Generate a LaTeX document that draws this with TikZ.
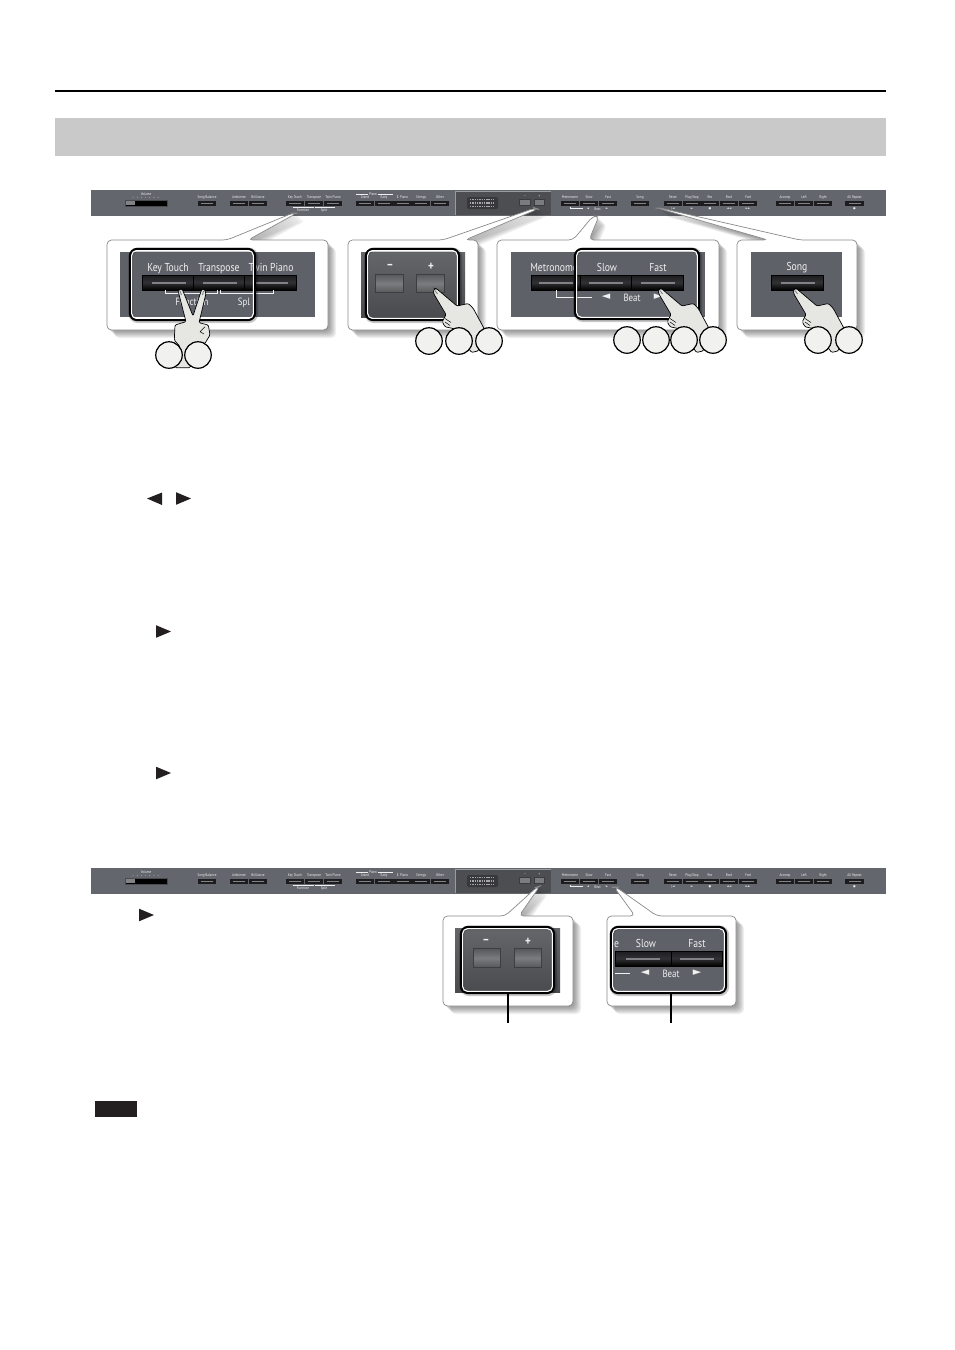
\documentclass[tikz,border=0pt]{standalone}
\usepackage{fontspec}
\usepackage{xcolor}
\setmainfont{PT Sans}
\newfontfamily\panelfont[FakeStretch=0.84]{PT Sans}
\newfontfamily\symfont{DejaVu Sans}
\definecolor{barcolor}{HTML}{63666C}
\definecolor{panelcolor}{HTML}{5F6169}
\definecolor{darkpanel}{HTML}{4A4B4F}
\definecolor{bandcolor}{HTML}{C9C9C9}
\definecolor{inkcolor}{HTML}{231F20}
\definecolor{handcolor}{HTML}{E6E6E3}
\definecolor{keycolor}{HTML}{1D1D20}
\definecolor{keymark}{HTML}{808286}
\definecolor{softkey}{HTML}{7A7C7E}
\definecolor{softedge}{HTML}{56585B}
\definecolor{paneltext}{HTML}{F0F0F0}
\definecolor{outlinecolor}{HTML}{8A8A8A}

\begin{document}
\begin{tikzpicture}[
    x=1pt, y=-1pt,
    barstrip/.style={rectangle, fill=barcolor, minimum width=795pt, minimum height=26pt, inner sep=0pt},
    barbtn/.style={rectangle, fill=keycolor, minimum width=18.4pt, minimum height=5.4pt, inner sep=0pt,
        path picture={\draw[keymark, line width=.9pt] ([xshift=-6pt]path picture bounding box.center) -- ([xshift=6pt]path picture bounding box.center);}},
    softbtn/.style={rectangle, fill=softkey, draw=darkpanel!80!black, line width=.6pt, minimum width=10.5pt, minimum height=6pt, inner sep=0pt},
    barlbl/.style={font=\panelfont\fontsize{3.9}{4}\selectfont, text=paneltext, inner sep=0pt, anchor=base},
    barsym/.style={font=\symfont\fontsize{3}{4}\selectfont, text=paneltext, inner sep=0pt},
    bigbtn/.style={rectangle, draw=black, line width=.6pt, top color=keycolor, bottom color=black, middle color=keycolor!80!keymark,
        minimum width=51.5pt, minimum height=15pt, inner sep=0pt,
        path picture={\draw[keymark, line width=2pt] ([xshift=-17pt]path picture bounding box.center) -- ([xshift=17pt]path picture bounding box.center);}},
    padbtn/.style={rectangle, draw=softedge!70!black, line width=.7pt, top color=softedge, bottom color=softedge, middle color=softkey,
        minimum width=27.5pt, minimum height=18.5pt, inner sep=0pt},
    panellbl/.style={font=\panelfont\fontsize{11.5}{12}\selectfont, text=paneltext, inner sep=0pt, anchor=base},
    smalllbl/.style={font=\panelfont\fontsize{10.5}{11}\selectfont, text=paneltext, inner sep=0pt, anchor=base},
    padlbl/.style={font=\panelfont\bfseries\fontsize{13}{13}\selectfont, text=paneltext, inner sep=0pt},
    panelsym/.style={font=\symfont\fontsize{11}{11}\selectfont, text=paneltext, inner sep=0pt},
    whiteline/.style={draw=paneltext, line width=.9pt},
    selframe/.style={rectangle, draw=black, line width=2.2pt, rounded corners=7pt, inner sep=0pt,
        preaction={draw=black, opacity=.22, line width=4.5pt, transform canvas={shift={(.8pt,-.8pt)}}}},
    selinner/.style={rectangle, draw=white, line width=1.1pt, rounded corners=5pt, inner sep=0pt},
    stepcircle/.style={circle, draw=black, line width=1.2pt, fill=handcolor!55!white, minimum size=26.5pt, inner sep=0pt},
    handline/.style={draw=black, line width=.7pt, fill=handcolor, rounded corners=1.2pt},
    foldline/.style={draw=black, line width=.5pt},
    leadline/.style={draw=black, line width=2pt},
    pointhand/.pic={
        \draw[handline] (-1.7,1.3) -- (-1,4.7) -- (11,25) -- (7.3,32.3) -- (10,37.3) -- (18.3,39) -- (36.7,63)
            -- (43.3,61.3) -- (50,40.7) -- (38.3,19) -- (33.3,14) -- (22,16.5) -- (1.7,-.7) -- (0,-1) -- cycle;
        \draw[foldline] (10,29) -- (16,33) (10,32.5) -- (15,36);
        \draw[keymark, line width=.9pt] (.2,1.2) -- (2.5,4.5);
    }
]
\useasboundingbox (0,0) rectangle (954,1350);

% Head rule and section band
\coordinate (ruleleft) at (55,91);
\coordinate (ruleright) at (886,91);
\draw[draw=black, line width=1.6pt] (ruleleft) -- (ruleright);
\node[rectangle, fill=bandcolor, minimum width=831pt, minimum height=38pt, inner sep=0pt] (band) at (470.5,137) {};

% Control strips, the same twice
\foreach \bary/\barid in {190/top, 868/low} {
  \begin{scope}[shift={(0,\bary)}]
    \node[barstrip] (bar\barid) at (488.5,13) {};
    % Volume slider
    \node[barlbl] (volume\barid) at (146,5.5) {Volume};
    \foreach \dx in {0,...,6} \fill[paneltext] (133+\dx*4.2,7.2) circle (.35);
    \node[rectangle, fill=black, draw=darkpanel, minimum width=42pt, minimum height=6pt, inner sep=0pt] (slider\barid) at (146,13) {};
    \fill[keymark] (126,11) rectangle (135,15);
    % Display
    \node[rectangle, fill=darkpanel!90!barcolor, minimum width=95pt, minimum height=23pt, inner sep=0pt] (display\barid) at (503.5,13.5) {};
    \draw[line width=1pt, draw=keymark!80!white] (display\barid.south west) -- (display\barid.north west) -- (display\barid.north east);
    \fill[darkpanel!75!black, rounded corners=2pt] (467,7) rectangle (498,19);
    \foreach \dy in {9.5,13,16.5} \draw[draw=keymark!70!white, line width=1.6pt, dash pattern=on 1.4pt off .9pt] (470,\dy) -- (495,\dy);
    \node[softbtn] (minus\barid) at (525,12.5) {};
    \node[softbtn] (plus\barid) at (539.5,12.5) {};
    \node[barlbl] (minuslbl\barid) at (525,7) {−};
    \node[barlbl] (pluslbl\barid) at (539.5,7) {+};
    % Buttons with their names
    \foreach \bx/\lab [count=\bi] in {207/Song Balance, 239/Ambience, 258/Brilliance, 295/Key Touch, 314/Transpose, 333/Twin Piano,
        365/Grand, 384/Early, 402.5/E. Piano, 421/Strings, 440/Other, 570/Metronome, 589/Slow, 608/Fast, 640/Song,
        673/Reset, 692/{Play/Stop}, 710/Rec, 729/Bwd, 748/Fwd, 785/Accomp, 804/Left, 823/Right, 854.5/All Repeat} {
      \node[barbtn] (barbtn\barid\bi) at (\bx,13.2) {};
      \node[barlbl] (barlbl\barid\bi) at (\bx,8.8) {\lab};
    }
    % Small marks under and above the buttons
    \node[barlbl] (piano\barid) at (373,5) {Piano};
    \draw[draw=paneltext, line width=.4pt] (356,4) -- (368,4) (378,4) -- (393,4);
    \node[barlbl] (function\barid) at (303,21) {Function};
    \node[barlbl] (split\barid) at (324,21) {Split};
    \draw[draw=paneltext, line width=.4pt] (293,16.5) -- (293,17.5) -- (313,17.5) -- (313,16.5) (315,16.5) -- (315,17.5) -- (334,17.5) -- (334,16.5);
    \draw[draw=paneltext, line width=.4pt] (570,16.5) -- (570,18.5) -- (583,18.5);
    \node[barlbl] (beat\barid) at (597.5,20) {Beat};
    \foreach \sx/\sym [count=\si] in {588/◄, 607/►, 673/|◄, 692/►/■, 710/●, 729/◄◄, 748/►►, 854.5/●}
      \node[barsym] (barsym\barid\si) at (\sx,18.6) {\sym};
  \end{scope}
}

% Callout boxes: left, top, right, bottom, base of the pointer, its tip
\foreach \xa/\ya/\xb/\yb/\ba/\bb/\ta/\tb/\tc/\td in {
    107/240/328/330/227/248/293/213/297/213,
    348/240/478/330/443/465/535/208/538/209,
    497/240/719/330/573/589/593/216/599/216,
    737/240/857/330/768/800/657/208/660/208,
    443/916/573/1006/505/519/537/887/540/886,
    607/916/736/1006/635/657/614/887/616/887} {
  \def\calloutshape{[rounded corners=4.5pt] (\xa,\yb) -- (\xa,\ya) -- (\ba,\ya) -- (\ta,\tb) -- (\tc,\td) -- (\bb,\ya) -- (\xb,\ya) -- (\xb,\yb) -- cycle}
  \foreach \sd in {1,...,8}
    \fill[black, opacity=.06, shift={(\sd,\sd)}] \calloutshape;
  \filldraw[fill=white, draw=outlinecolor, line width=.7pt] \calloutshape;
}

% Panel faces
\fill[panelcolor] (120,252) rectangle (315,317);
\fill[panelcolor] (511,252) rectangle (705,317);
\fill[panelcolor] (751,252) rectangle (842,317);
\fill[panelcolor, rounded corners=6pt] (612,928) rectangle (725,992);
\shade[top color=darkpanel!85!white, bottom color=darkpanel] (361,252) rectangle (465,317);
\shade[top color=darkpanel!85!white, bottom color=darkpanel] (455,928) rectangle (560,992);

% Key Touch panel
\node[bigbtn] (keytouch) at (168.5,282.5) {};
\node[bigbtn] (transpose) at (219.5,282.5) {};
\node[bigbtn] (twinpiano) at (270.5,282.5) {};
\node[panellbl] (keytouchlbl) at (168,271.5) {Key Touch};
\node[panellbl] (transposelbl) at (219,271.5) {Transpose};
\node[panellbl] (twinlbl) at (271,271.5) {Twin Piano};
\node[smalllbl] (functionlbl) at (192,305.5) {Function};
\node[smalllbl] (splitlbl) at (244,305.5) {Spl};
\draw[whiteline] (165,290) -- (165,293) -- (217,293) -- (217,290) (220,290) -- (220,293) -- (273,293) -- (273,290);

% Minus and plus panel
\node[padbtn] (minuspad) at (389.5,283.5) {};
\node[padbtn] (pluspad) at (430.5,283.5) {};
\node[padlbl] (minuspadlbl) at (390,266.5) {−};
\node[padlbl] (pluspadlbl) at (431,266.5) {+};

% Metronome panel
\node[bigbtn, minimum width=49pt] (metronome) at (555.5,282.5) {};
\node[bigbtn] (slowkey) at (606,282.5) {};
\node[bigbtn] (fastkey) at (657.5,282.5) {};
\node[panellbl] (metronomelbl) at (554,271.5) {Metronome};
\node[panellbl] (slowlbl) at (607,271.5) {Slow};
\node[panellbl] (fastlbl) at (658,271.5) {Fast};
\node[panelsym] (beatleft) at (606,297) {◄};
\node[smalllbl] (beatlbl) at (632,301.5) {Beat};
\node[panelsym] (beatright) at (658,297) {►};
\draw[whiteline] (556,290) -- (556,297) -- (592,297);

% Song panel
\node[bigbtn] (songkey) at (797.5,282.5) {};
\node[panellbl] (songlbl) at (797,270.5) {Song};

% Lower minus and plus panel
\node[padbtn] (lowminus) at (487,958) {};
\node[padbtn] (lowplus) at (528,958) {};
\node[padlbl] (lowminuslbl) at (486,942) {−};
\node[padlbl] (lowpluslbl) at (528,942) {+};

% Lower slow and fast panel
\node[bigbtn, minimum width=56pt] (lowslow) at (643,958.5) {};
\node[bigbtn, minimum width=51pt] (lowfast) at (696.5,958.5) {};
\node[panellbl] (lowelbl) at (616.5,947) {e};
\node[panellbl] (lowslowlbl) at (646,947) {Slow};
\node[panellbl] (lowfastlbl) at (697,947) {Fast};
\node[panelsym] (lowbeatleft) at (645,973) {◄};
\node[smalllbl] (lowbeatlbl) at (671,977) {Beat};
\node[panelsym] (lowbeatright) at (697,973) {►};
\draw[whiteline] (615,973) -- (630,973);

% Selection frames
\foreach \fn/\fx/\fy/\fw/\fh in {keys/192.5/284.5/125/71, volume/412.5/284.5/93/71, beat/637/284/124/70,
    lowvol/507.5/960/93/66, lowbeat/668.5/960/115/66} {
  \node[selframe, minimum width=\fw pt, minimum height=\fh pt] (sel\fn) at (\fx,\fy) {};
  \node[selinner, minimum width=\fw pt-3.2pt, minimum height=\fh pt-3.2pt] (selin\fn) at (\fx,\fy) {};
}

% Lines from the lower frames
\coordinate (leadvol) at (508,1023);
\coordinate (leadbeat) at (671,1023);
\draw[leadline] (leadvol |- sellowvol.south) -- (leadvol);
\draw[leadline] (leadbeat |- sellowbeat.south) -- (leadbeat);

% Hands
\draw[handline] (178.3,291.7) -- (186,321.7) -- (175,325) -- (174.3,340) -- (180,346.7) -- (175,367.7) -- (190,367.7)
    -- (198.3,346.7) -- (205,343.3) -- (210,335) -- (208.3,325) -- (199,322.7) -- (206,293.3) -- (204.3,289.3)
    -- (201.7,289.3) -- (193,316) -- (182.3,289.3) -- (179.3,289.3) -- cycle;
\draw[foldline] (200,331.7) -- (205,326.7) (200,331.7) -- (204,334);
\draw[keymark, line width=.9pt] (180,291) -- (181.5,295) (203.5,291) -- (202.5,295);
\pic at (435,289.5) {pointhand};
\pic at (660,289.5) {pointhand};
\pic at (795,289.5) {pointhand};

% Step circles
\foreach \cx/\cy/\cn in {169/355/stepa, 198/355/stepb, 429/341/stepc, 459/341/stepd, 489/341/stepe,
    627/340/stepf, 656/340/stepg, 684/340/steph, 713/340/stepi, 818/340/stepj, 849/340/stepk} {
  \node[stepcircle] (\cn) at (\cx,\cy) {};
}

% Arrow marks of the page
\fill[inkcolor] (162,492.5) -- (147,498.5) -- (162,505) -- cycle;
\foreach \tx/\ty in {176/498.5, 156/631.5, 156/773, 139/915}
  \fill[inkcolor] (\tx,\ty-6.3) -- (\tx+15,\ty) -- (\tx,\ty+6.3) -- cycle;

% Note tag
\node[rectangle, fill=inkcolor, minimum width=42pt, minimum height=16pt, inner sep=0pt] (notetag) at (116,1109) {};

\end{tikzpicture}
\end{document}
